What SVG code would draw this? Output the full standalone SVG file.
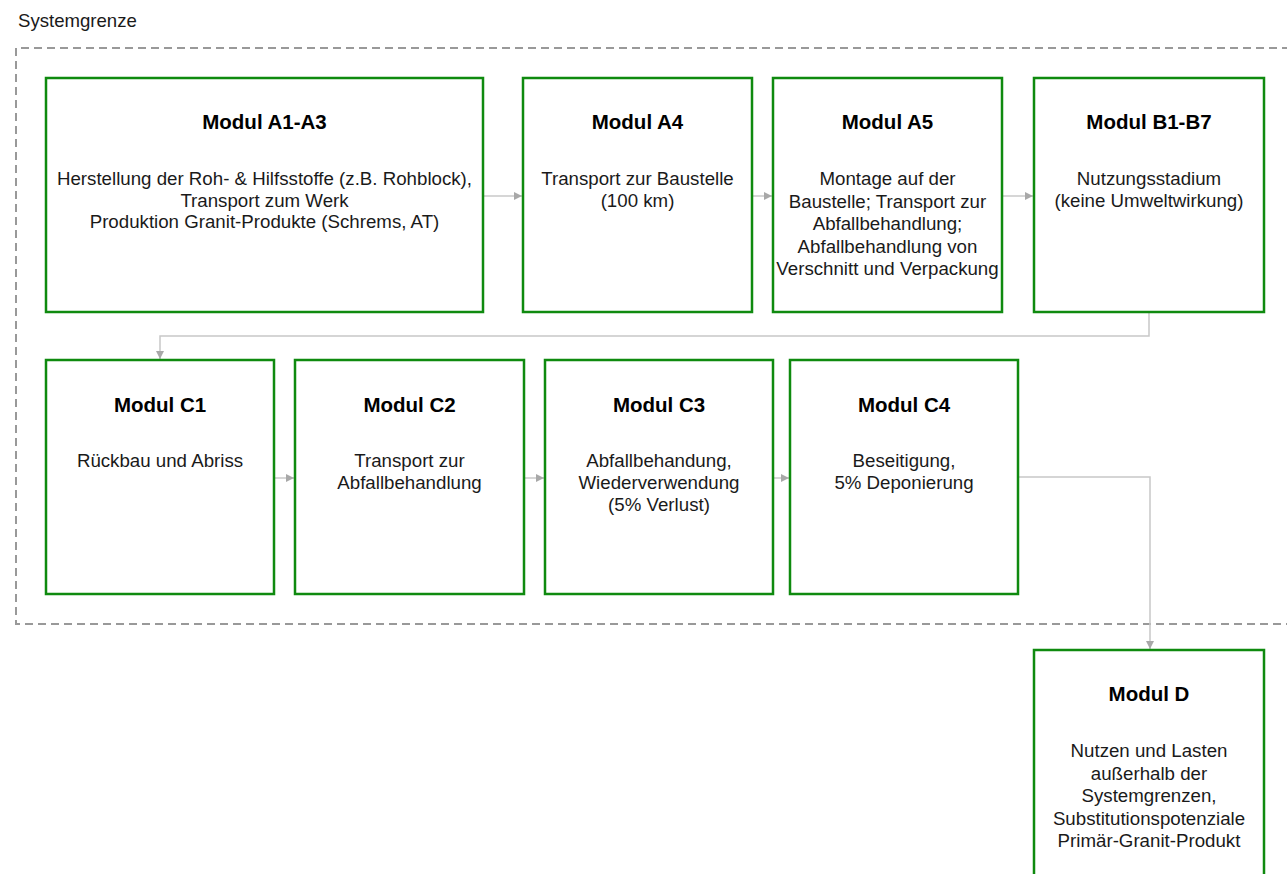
<svg xmlns="http://www.w3.org/2000/svg" width="1287" height="874" viewBox="0 0 1287 874">
<defs>
<style>
.box{fill:#ffffff;stroke:#0f8a0f;stroke-width:2.5}
.t{font-family:"Liberation Sans",Arial,sans-serif;font-size:20.5px;font-weight:bold;fill:#000;text-anchor:middle}
.b{font-family:"Liberation Sans",Arial,sans-serif;font-size:18.7px;fill:#1a1a1a;text-anchor:middle}
.c{fill:none;stroke:#c8c8c8;stroke-width:1.5}
.lbl{font-family:"Liberation Sans",Arial,sans-serif;font-size:18.6px;fill:#1a1a1a}
</style>
<marker id="arr" viewBox="0 0 10 10" refX="10" refY="5" markerWidth="8" markerHeight="8" markerUnits="userSpaceOnUse" orient="auto">
<path d="M0,0 L10,5 L0,10 z" fill="#a8a8a8"/>
</marker>
</defs>
<rect width="1287" height="874" fill="#ffffff"/>
<g id="systemgrenze">
<text class="lbl" x="18" y="27">Systemgrenze</text>
<path d="M1290,48 L16,48 L16,624 L1290,624" fill="none" stroke="#999999" stroke-width="2" stroke-dasharray="8,5"/>
</g>
<g id="connectors">
<path class="c" d="M484,196 L522,196" marker-end="url(#arr)"/>
<path class="c" d="M753,196 L772,196" marker-end="url(#arr)"/>
<path class="c" d="M1003,196 L1033,196" marker-end="url(#arr)"/>
<path class="c" d="M1149,313 L1149,336 L160,336 L160,359" marker-end="url(#arr)"/>
<path class="c" d="M275,478 L294,478" marker-end="url(#arr)"/>
<path class="c" d="M525,478 L544,478" marker-end="url(#arr)"/>
<path class="c" d="M774,478 L789,478" marker-end="url(#arr)"/>
<path class="c" d="M1019,477 L1150,477 L1150,649" marker-end="url(#arr)"/>
</g>
<g id="modA1A3">
<rect class="box" x="46" y="78" width="437" height="234"/>
<text class="t" x="264.5" y="129">Modul A1-A3</text>
<text class="b" x="264.5" y="185">Herstellung der Roh- &amp; Hilfsstoffe (z.B. Rohblock),</text>
<text class="b" x="264.5" y="206.5">Transport zum Werk</text>
<text class="b" x="264.5" y="228">Produktion Granit-Produkte (Schrems, AT)</text>
</g>
<g id="modA4">
<rect class="box" x="523" y="78" width="229" height="234"/>
<text class="t" x="637.5" y="129">Modul A4</text>
<text class="b" x="637.5" y="185">Transport zur Baustelle</text>
<text class="b" x="637.5" y="207">(100 km)</text>
</g>
<g id="modA5">
<rect class="box" x="773" y="78" width="229" height="234"/>
<text class="t" x="887.5" y="129">Modul A5</text>
<text class="b" x="887.5" y="185">Montage auf der</text>
<text class="b" x="887.5" y="207.5">Baustelle; Transport zur</text>
<text class="b" x="887.5" y="230">Abfallbehandlung;</text>
<text class="b" x="887.5" y="252.5">Abfallbehandlung von</text>
<text class="b" x="887.5" y="275">Verschnitt und Verpackung</text>
</g>
<g id="modB1B7">
<rect class="box" x="1034" y="78" width="230" height="234"/>
<text class="t" x="1149" y="129">Modul B1-B7</text>
<text class="b" x="1149" y="185">Nutzungsstadium</text>
<text class="b" x="1149" y="207">(keine Umweltwirkung)</text>
</g>
<g id="modC1">
<rect class="box" x="46" y="360" width="228" height="234"/>
<text class="t" x="160" y="412">Modul C1</text>
<text class="b" x="160" y="467">Rückbau und Abriss</text>
</g>
<g id="modC2">
<rect class="box" x="295" y="360" width="229" height="234"/>
<text class="t" x="409.5" y="412">Modul C2</text>
<text class="b" x="409.5" y="467">Transport zur</text>
<text class="b" x="409.5" y="489">Abfallbehandlung</text>
</g>
<g id="modC3">
<rect class="box" x="545" y="360" width="228" height="234"/>
<text class="t" x="659" y="412">Modul C3</text>
<text class="b" x="659" y="467">Abfallbehandung,</text>
<text class="b" x="659" y="489">Wiederverwendung</text>
<text class="b" x="659" y="511">(5% Verlust)</text>
</g>
<g id="modC4">
<rect class="box" x="790" y="360" width="228" height="234"/>
<text class="t" x="904" y="412">Modul C4</text>
<text class="b" x="904" y="467">Beseitigung,</text>
<text class="b" x="904" y="489">5% Deponierung</text>
</g>
<g id="modD">
<rect class="box" x="1034" y="650" width="230" height="240"/>
<text class="t" x="1149" y="701">Modul D</text>
<text class="b" x="1149" y="757">Nutzen und Lasten</text>
<text class="b" x="1149" y="779.5">außerhalb der</text>
<text class="b" x="1149" y="802">Systemgrenzen,</text>
<text class="b" x="1149" y="824.5">Substitutionspotenziale</text>
<text class="b" x="1149" y="847">Primär-Granit-Produkt</text>
</g>
</svg>
